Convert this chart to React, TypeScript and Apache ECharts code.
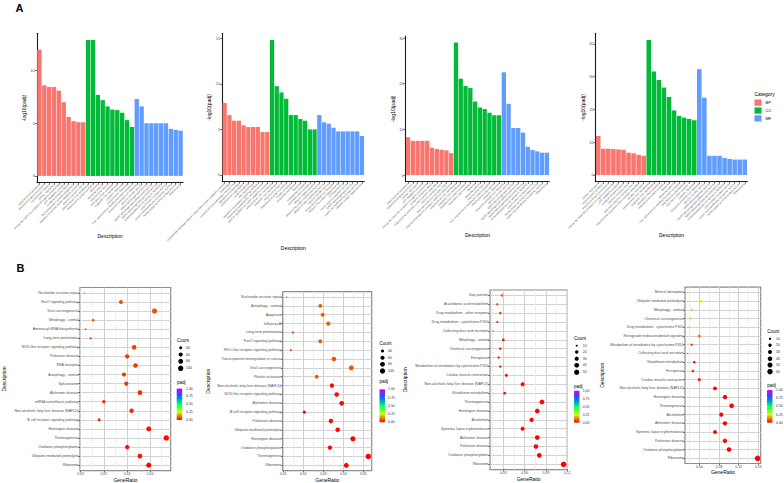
import React, { useEffect, useRef } from 'react';
import * as echarts from 'echarts';

const FONT = '"Liberation Sans", Arial, Helvetica, sans-serif';
const CAT_NAMES = ['BP', 'CC', 'MF'];
const CAT_COLORS = ['#F8766D', '#00BA38', '#619CFF'];
const RAINBOW = ['#FF0000', '#CCFF00', '#00FF66', '#0066FF', '#CC00FF'];

// ---------------- Panel A (GO bar charts) ----------------
const a1BP = [12.0, 8.6, 8.45, 8.45, 8.1, 7.0, 5.6, 5.2, 5.1, 5.1];
const a1CC = [12.9, 12.9, 7.7, 7.2, 6.6, 6.3, 6.25, 6.0, 5.3, 4.65];
const a1MF = [7.3, 6.6, 5.0, 5.0, 5.0, 5.0, 5.0, 4.47, 4.37, 4.3];
const a1Labels = [
  'mitochondrial translation', 'mitochondrial gene expression', 'translational initiation', 'cellular respiration',
  'energy derivation by oxidation of organic compounds', 'ATP metabolic process', 'oxidative phosphorylation',
  'ribonucleoprotein complex biogenesis', 'regulation of cellular amide metabolic process', 'electron transport chain',
  'mitochondrial inner membrane', 'mitochondrial protein complex', 'ribosome', 'ribosomal subunit', 'mitochondrial matrix',
  'respiratory chain complex', 'organelle inner membrane', 'cytosolic ribosome', 'mitochondrial ribosome',
  'inner mitochondrial membrane protein complex',
  'structural constituent of ribosome', 'electron transfer activity', 'NADH dehydrogenase activity',
  'NADH dehydrogenase (ubiquinone) activity', 'NADH dehydrogenase (quinone) activity',
  'oxidoreductase activity, acting on NAD(P)H', 'cytochrome-c oxidase activity',
  'proton transmembrane transporter activity', 'heme-copper terminal oxidase activity', 'rRNA binding',
];
const a1Ticks = [0, 5, 10];

const a2BP = [7.9, 6.57, 5.95, 5.95, 5.44, 5.26, 5.26, 5.26, 4.7, 4.7];
const a2CC = [14.8, 9.74, 9.05, 8.36, 6.57, 6.57, 6.13, 5.95, 5.0, 5.0];
const a2MF = [6.57, 5.77, 5.62, 5.18, 4.78, 4.78, 4.78, 4.78, 4.78, 4.27];
const a2Labels = [
  'proteasome-mediated ubiquitin-dependent protein catabolic process', 'autophagy', 'process utilizing autophagic mechanism',
  'regulation of autophagy', 'mitochondrion organization', 'protein targeting', 'macroautophagy',
  'regulation of apoptotic signaling pathway', 'response to endoplasmic reticulum stress',
  'positive regulation of protein catabolic process',
  'mitochondrial inner membrane', 'organelle inner membrane', 'mitochondrial matrix', 'mitochondrial protein complex',
  'nuclear envelope', 'endosome membrane', 'ribosome', 'proteasome complex', 'respiratory chain complex',
  'ubiquitin ligase complex',
  'ubiquitin-like protein transferase activity', 'ubiquitin-protein transferase activity', 'electron transfer activity',
  'structural constituent of ribosome', 'ubiquitin-like protein ligase binding', 'GTPase binding',
  'transcription coregulator activity', 'NADH dehydrogenase activity', 'protein serine/threonine kinase activity',
  'ubiquitin protein ligase activity',
];
const a2Ticks = [0, 5, 10, 15];

const a3BP = [8.3, 7.5, 7.5, 7.5, 7.5, 6.0, 5.7, 5.55, 5.4, 4.8];
const a3CC = [29.0, 21.1, 19.5, 19.05, 16.1, 14.8, 14.45, 13.65, 13.1, 13.1];
const a3MF = [22.5, 15.6, 10.3, 10.3, 9.3, 6.2, 5.5, 5.2, 4.9, 4.9];
const a3Labels = [
  'mitochondrial translation', 'mitochondrial gene expression', 'cellular respiration', 'ATP metabolic process',
  'energy derivation by oxidation of organic compounds', 'oxidative phosphorylation',
  'mitochondrial respiratory chain complex assembly', 'electron transport chain', 'respiratory electron transport chain',
  'mitochondrial electron transport, NADH to ubiquinone',
  'mitochondrial inner membrane', 'organelle inner membrane', 'mitochondrial protein complex', 'respiratory chain complex',
  'ribosome', 'ribosomal subunit', 'mitochondrial matrix', 'inner mitochondrial membrane protein complex',
  'mitochondrial respirasome', 'cytosolic ribosome',
  'structural constituent of ribosome', 'electron transfer activity', 'NADH dehydrogenase activity',
  'NADH dehydrogenase (ubiquinone) activity', 'NADH dehydrogenase (quinone) activity',
  'oxidoreductase activity, acting on NAD(P)H', 'cytochrome-c oxidase activity',
  'heme-copper terminal oxidase activity', 'proton transmembrane transporter activity', 'rRNA binding',
];
const a3Ticks = [0, 10, 20, 30];

const a4BP = [11.9, 8.0, 8.0, 7.9, 7.8, 7.7, 6.8, 6.6, 6.15, 5.85];
const a4CC = [41.2, 31.6, 29.0, 26.7, 23.8, 19.7, 18.05, 17.5, 17.1, 16.7];
const a4MF = [32.3, 23.6, 5.85, 5.85, 5.85, 5.2, 4.9, 4.7, 4.7, 4.7];
const a4Labels = [
  'cellular respiration', 'mitochondrial translation', 'mitochondrial gene expression',
  'energy derivation by oxidation of organic compounds', 'ATP metabolic process', 'oxidative phosphorylation',
  'electron transport chain', 'respiratory electron transport chain', 'mitochondrial respiratory chain complex assembly',
  'aerobic respiration',
  'mitochondrial inner membrane', 'organelle inner membrane', 'respiratory chain complex', 'mitochondrial protein complex',
  'ribosome', 'ribosomal subunit', 'inner mitochondrial membrane protein complex', 'mitochondrial respirasome',
  'respiratory chain complex I', 'cytosolic ribosome',
  'structural constituent of ribosome', 'electron transfer activity', 'NADH dehydrogenase activity',
  'NADH dehydrogenase (ubiquinone) activity', 'NADH dehydrogenase (quinone) activity',
  'oxidoreductase activity, acting on NAD(P)H', 'cytochrome-c oxidase activity',
  'proton transmembrane transporter activity', 'heme-copper terminal oxidase activity', 'rRNA binding',
];
const a4Ticks = [0, 10, 20, 30, 40];

// ---------------- Panel B (KEGG dot plots) ----------------
const b1Names = [
  'Nucleotide excision repair', 'FoxO signaling pathway', 'Viral carcinogenesis', 'Mitophagy - animal',
  'Aminoacyl-tRNA biosynthesis', 'Long-term potentiation', 'NOD-like receptor signaling pathway', 'Parkinson disease',
  'RNA transport', 'Autophagy - animal', 'Spliceosome', 'Alzheimer disease', 'mRNA surveillance pathway',
  'Non-alcoholic fatty liver disease (NAFLD)', 'B cell receptor signaling pathway', 'Huntington disease',
  'Thermogenesis', 'Oxidative phosphorylation', 'Ubiquitin mediated proteolysis', 'Ribosome',
];
const b1Ratio = [0.0116, 0.0274, 0.0419, 0.0154, 0.0121, 0.0143, 0.0331, 0.0301, 0.0337, 0.0287, 0.0297, 0.0356, 0.0200, 0.0320, 0.0180, 0.0394, 0.0470, 0.0301, 0.0356, 0.0394];
const b1Count = [26, 60, 92, 34, 27, 31, 73, 66, 74, 63, 65, 78, 44, 70, 40, 87, 103, 66, 78, 87];
const b1Padj = [0.09, 0.085, 0.08, 0.08, 0.085, 0.08, 0.06, 0.055, 0.055, 0.05, 0.05, 0.045, 0.04, 0.04, 0.035, 0.02, 0.015, 0.01, 0.01, 0.005];
const b1Majors = [0.01, 0.02, 0.03, 0.04];
const b1Minors = [0.015, 0.025, 0.035, 0.045];
const b1CountBreaks = [40, 60, 80, 100];

const b2Names = [
  'Nucleotide excision repair', 'Autophagy - animal', 'Apoptosis', 'Influenza A', 'Long-term potentiation',
  'FoxO signaling pathway', 'RIG-I-like receptor signaling pathway', 'Transcriptional misregulation in cancer',
  'Viral carcinogenesis', 'Platelet activation', 'Non-alcoholic fatty liver disease (NAFLD)',
  'NOD-like receptor signaling pathway', 'Alzheimer disease', 'B cell receptor signaling pathway', 'Parkinson disease',
  'Ubiquitin mediated proteolysis', 'Huntington disease', 'Oxidative phosphorylation', 'Thermogenesis', 'Ribosome',
];
const b2Ratio = [0.0117, 0.0285, 0.0297, 0.0325, 0.0148, 0.0285, 0.0138, 0.0353, 0.0440, 0.0267, 0.0343, 0.0367, 0.0392, 0.0205, 0.0338, 0.0372, 0.0448, 0.0333, 0.0525, 0.0415];
const b2Count = [23, 57, 59, 65, 30, 57, 28, 71, 88, 53, 69, 73, 78, 41, 68, 74, 90, 67, 105, 83];
const b2Padj = [0.095, 0.09, 0.09, 0.09, 0.09, 0.09, 0.09, 0.085, 0.085, 0.085, 0.01, 0.01, 0.008, 0.01, 0.006, 0.006, 0.004, 0.004, 0.002, 0.002];
const b2Majors = [0.01, 0.02, 0.03, 0.04, 0.05];
const b2Minors = [0.015, 0.025, 0.035, 0.045];
const b2CountBreaks = [40, 60, 80, 100];

const b3Names = [
  'Gap junction', 'Arachidonic acid metabolism', 'Drug metabolism - other enzymes', 'Drug metabolism - cytochrome P450',
  'Collecting duct acid secretion', 'Mitophagy - animal', 'Chemical carcinogenesis', 'Ferroptosis',
  'Metabolism of xenobiotics by cytochrome P450', 'Cardiac muscle contraction',
  'Non-alcoholic fatty liver disease (NAFLD)', 'Glutathione metabolism', 'Thermogenesis', 'Huntington disease',
  'Alcoholism', 'Systemic lupus erythematosus', 'Alzheimer disease', 'Parkinson disease', 'Oxidative phosphorylation',
  'Ribosome',
];
const b3Ratio = [0.0281, 0.0216, 0.0258, 0.0216, 0.0155, 0.0300, 0.0258, 0.0234, 0.0258, 0.0342, 0.0572, 0.0319, 0.0844, 0.0778, 0.0698, 0.0572, 0.0778, 0.0759, 0.0806, 0.1148];
const b3Count = [14, 10, 12, 10, 8, 14, 12, 11, 12, 16, 27, 15, 40, 37, 33, 27, 37, 36, 38, 54];
const b3Padj = [0.1, 0.04, 0.035, 0.04, 0.04, 0.02, 0.02, 0.03, 0.02, 0.01, 0.005, 0.01, 0.001, 0.001, 0.002, 0.002, 0.001, 0.001, 0.001, 0.0001];
const b3Majors = [0.03, 0.06, 0.09, 0.12];
const b3Minors = [0.015, 0.045, 0.075, 0.105];
const b3CountBreaks = [10, 20, 30, 40, 50];

const b4Names = [
  'Mineral absorption', 'Ubiquitin mediated proteolysis', 'Mitophagy - animal', 'Chemical carcinogenesis',
  'Drug metabolism - cytochrome P450', 'Retrograde endocannabinoid signaling',
  'Metabolism of xenobiotics by cytochrome P450', 'Collecting duct acid secretion', 'Glutathione metabolism',
  'Ferroptosis', 'Cardiac muscle contraction', 'Non-alcoholic fatty liver disease (NAFLD)', 'Huntington disease',
  'Thermogenesis', 'Alcoholism', 'Alzheimer disease', 'Systemic lupus erythematosus', 'Parkinson disease',
  'Oxidative phosphorylation', 'Ribosome',
];
const b4Ratio = [0.0156, 0.0427, 0.0244, 0.0217, 0.0190, 0.0400, 0.0244, 0.0163, 0.0298, 0.0271, 0.0400, 0.0719, 0.0922, 0.1058, 0.0847, 0.0922, 0.0719, 0.0922, 0.1003, 0.1586];
const b4Count = [6, 17, 10, 8, 7, 16, 10, 6, 12, 11, 16, 28, 36, 41, 33, 36, 28, 36, 39, 62];
const b4Padj = [0.22, 0.25, 0.22, 0.22, 0.22, 0.12, 0.05, 0.05, 0.02, 0.03, 0.02, 0.002, 0.001, 0.001, 0.001, 0.001, 0.002, 0.001, 0.001, 0.0001];
const b4Majors = [0.04, 0.08, 0.12, 0.16];
const b4Minors = [0.02, 0.06, 0.10, 0.14];
const b4CountBreaks = [10, 20, 30, 40, 50, 60];

const padjBreaks = [1, 0.75, 0.5, 0.25, 0];

// ---------------- Layout ----------------
const BAR_LAYOUT = [
  { left: 37, top: 33.3, width: 146, height: 149.4 },
  { left: 222.3, top: 33.3, width: 142, height: 148.4 },
  { left: 405.7, top: 36, width: 143.6, height: 145.7 },
  { left: 595.7, top: 33.3, width: 151.6, height: 148.4 },
];
const DOT_LAYOUT = [
  { left: 79.3, top: 287.5, width: 91.4, height: 184, xmin: 0.0097, xmax: 0.0489, nameGap: 74,
    leg: { x: 177, ty: 340, dx: 180.7, ys: [347.7, 354.5, 361.3, 368.3], lx: 186, py: 382, bx: 176.7, by: 388.5, bh: 31.5 } },
  { left: 282.7, top: 291.7, width: 89, height: 180, xmin: 0.0097, xmax: 0.0542, nameGap: 72,
    leg: { x: 379.5, ty: 343, dx: 382.5, ys: [351, 357.7, 364.3, 371], lx: 388, py: 381, bx: 379.5, by: 389.3, bh: 33 } },
  { left: 490, top: 290, width: 77.3, height: 179.6, xmin: 0.0113, xmax: 0.12, nameGap: 83,
    leg: { x: 574, ty: 338.3, dx: 576.7, ys: [345.7, 352, 358.7, 365.3, 372.3], lx: 582.7, py: 386, bx: 574, by: 390.7, bh: 32 } },
  { left: 685, top: 287.1, width: 75.7, height: 176.4, xmin: 0.0109, xmax: 0.1649, nameGap: 81,
    leg: { x: 767.3, ty: 331.7, dx: 770, ys: [338.7, 345.3, 352, 358.7, 365, 371.7], lx: 776, py: 385.7, bx: 767, by: 390, bh: 32.7 } },
];

function sizeScale(counts: number[]) {
  const lo = Math.min(...counts);
  const hi = Math.max(...counts);
  return (c: number) => 1.2 + 4.3 * Math.sqrt(Math.max(0, (c - lo) / (hi - lo)));
}

function buildOption() {
  const grids: any[] = [];
  const xAxes: any[] = [];
  const yAxes: any[] = [];
  const series: any[] = [];
  const visualMaps: any[] = [];
  const graphics: any[] = [];

  const barPanels = [
    { vals: [a1BP, a1CC, a1MF], labels: a1Labels, ticks: a1Ticks },
    { vals: [a2BP, a2CC, a2MF], labels: a2Labels, ticks: a2Ticks },
    { vals: [a3BP, a3CC, a3MF], labels: a3Labels, ticks: a3Ticks },
    { vals: [a4BP, a4CC, a4MF], labels: a4Labels, ticks: a4Ticks },
  ];

  barPanels.forEach((p, i) => {
    const L = BAR_LAYOUT[i];
    grids.push({ left: L.left, top: L.top, width: L.width, height: L.height });
    const mx = Math.max(...p.vals[0], ...p.vals[1], ...p.vals[2]);
    const xi = xAxes.length;
    xAxes.push({
      type: 'category', gridIndex: grids.length - 1, data: p.labels, boundaryGap: true,
      axisLine: { show: true, onZero: false, lineStyle: { color: '#1a1a1a', width: 1.1 } },
      axisTick: { show: true, alignWithLabel: true, interval: 0, length: 2, lineStyle: { color: '#333', width: 0.7 } },
      axisLabel: { interval: 0, rotate: 45, fontSize: 2.7, color: '#4d4d4d', margin: 2, fontFamily: FONT },
      name: 'Description', nameLocation: 'middle', nameGap: 49,
      nameTextStyle: { fontSize: 5, color: '#000', fontFamily: FONT },
    });
    const yi = yAxes.length;
    yAxes.push({
      type: 'value', gridIndex: grids.length - 1, min: -0.05 * mx, max: 1.05 * mx,
      axisLine: { show: true, onZero: false, lineStyle: { color: '#1a1a1a', width: 1.1 } },
      axisTick: { show: true, length: 2, customValues: p.ticks, lineStyle: { color: '#333', width: 0.7 } },
      axisLabel: { customValues: p.ticks, fontSize: 4, color: '#4d4d4d', margin: 2, fontFamily: FONT },
      splitLine: { show: false },
      name: '-log10(padj)', nameLocation: 'middle', nameGap: 9, nameRotate: 90,
      nameTextStyle: { fontSize: 5, color: '#000', fontFamily: FONT },
    });
    let offset = 0;
    const total = p.labels.length;
    p.vals.forEach((arr, c) => {
      const data: any[] = [];
      for (let k = 0; k < total; k++) {
        const j = k - offset;
        data.push(j >= 0 && j < arr.length ? arr[j] : '-');
      }
      offset += arr.length;
      series.push({
        type: 'bar', name: CAT_NAMES[c], xAxisIndex: xi, yAxisIndex: yi, stack: 'bars' + i,
        barCategoryGap: '10%', data, itemStyle: { color: CAT_COLORS[c] }, silent: true,
      });
    });
  });

  const dotPanels = [
    { names: b1Names, ratio: b1Ratio, count: b1Count, padj: b1Padj, majors: b1Majors, minors: b1Minors, breaks: b1CountBreaks },
    { names: b2Names, ratio: b2Ratio, count: b2Count, padj: b2Padj, majors: b2Majors, minors: b2Minors, breaks: b2CountBreaks },
    { names: b3Names, ratio: b3Ratio, count: b3Count, padj: b3Padj, majors: b3Majors, minors: b3Minors, breaks: b3CountBreaks },
    { names: b4Names, ratio: b4Ratio, count: b4Count, padj: b4Padj, majors: b4Majors, minors: b4Minors, breaks: b4CountBreaks },
  ];

  const rowIdx = (n: number) => Array.from({ length: n }, (_, k) => k);

  dotPanels.forEach((p, k) => {
    const L = DOT_LAYOUT[k];
    grids.push({
      left: L.left, top: L.top, width: L.width, height: L.height,
      show: true, borderColor: '#8c8c8c', borderWidth: 1.2, backgroundColor: '#fff',
    });
    const gi = grids.length - 1;
    const xi = xAxes.length;
    xAxes.push({
      type: 'value', gridIndex: gi, min: L.xmin, max: L.xmax, position: 'bottom',
      axisLine: { show: false, onZero: false },
      axisTick: { show: true, length: 1.8, customValues: p.majors, lineStyle: { color: '#333', width: 0.7 } },
      axisLabel: { customValues: p.majors, formatter: (v: number) => v.toFixed(2), fontSize: 3.5, color: '#4d4d4d', margin: 1.5, fontFamily: FONT },
      splitLine: { show: true, lineStyle: { color: '#d2d2d2', width: 1 } },
      name: 'GeneRatio', nameLocation: 'middle', nameGap: 6,
      nameTextStyle: { fontSize: 5, color: '#000', fontFamily: FONT },
    });
    xAxes.push({
      type: 'value', gridIndex: gi, min: L.xmin, max: L.xmax, position: 'bottom',
      axisLine: { show: false, onZero: false }, axisTick: { show: false, customValues: p.minors },
      axisLabel: { show: false, customValues: p.minors },
      splitLine: { show: true, lineStyle: { color: '#e8e8e8', width: 0.7 } },
    });
    const yi = yAxes.length;
    const rows = rowIdx(p.names.length);
    yAxes.push({
      type: 'value', gridIndex: gi, inverse: true, min: -0.6, max: p.names.length - 0.4,
      axisLine: { show: false, onZero: false },
      axisTick: { show: true, length: 1.8, customValues: rows, lineStyle: { color: '#333', width: 0.7 } },
      axisLabel: {
        customValues: rows, formatter: (v: number) => p.names[Math.round(v)] ?? '',
        fontSize: 3.5, color: '#4d4d4d', margin: 1.5, fontFamily: FONT,
      },
      splitLine: { show: true, lineStyle: { color: '#d2d2d2', width: 1 } },
      name: 'Description', nameLocation: 'middle', nameGap: L.nameGap, nameRotate: 90,
      nameTextStyle: { fontSize: 5, color: '#000', fontFamily: FONT },
    });
    const sz = sizeScale(p.count);
    const sIdx = series.length;
    series.push({
      type: 'scatter', xAxisIndex: xi, yAxisIndex: yi, silent: true,
      data: p.ratio.map((x, j) => [x, j, p.count[j], p.padj[j]]),
      symbolSize: (v: number[]) => sz(v[2]),
      itemStyle: { opacity: 1 },
    });
    visualMaps.push({
      type: 'continuous', show: false, seriesIndex: sIdx, dimension: 3, min: 0, max: 1,
      inRange: { color: RAINBOW },
    });

    const g = L.leg;
    graphics.push({ type: 'text', x: g.x, y: g.ty, style: { text: 'Count', fontSize: 4.5, fontFamily: FONT, fill: '#000', textVerticalAlign: 'middle' } });
    p.breaks.forEach((b, j) => {
      graphics.push({ type: 'circle', shape: { cx: g.dx, cy: g.ys[j], r: sz(b) / 2 }, style: { fill: '#000' } });
      graphics.push({ type: 'text', x: g.lx, y: g.ys[j], style: { text: String(b), fontSize: 3.5, fontFamily: FONT, fill: '#333', textVerticalAlign: 'middle' } });
    });
    graphics.push({ type: 'text', x: g.x, y: g.py, style: { text: 'padj', fontSize: 4.5, fontFamily: FONT, fill: '#000', textVerticalAlign: 'middle' } });
    graphics.push({
      type: 'rect', shape: { x: g.bx, y: g.by, width: 5.5, height: g.bh },
      style: {
        fill: new echarts.graphic.LinearGradient(0, 1, 0, 0, RAINBOW.map((c, j) => ({ offset: j / (RAINBOW.length - 1), color: c }))),
      },
    });
    padjBreaks.forEach((v) => {
      const yy = g.by + g.bh * (1 - v);
      graphics.push({ type: 'line', shape: { x1: g.bx, y1: yy, x2: g.bx + 1.1, y2: yy }, style: { stroke: '#fff', lineWidth: 0.4 } });
      graphics.push({ type: 'line', shape: { x1: g.bx + 4.4, y1: yy, x2: g.bx + 5.5, y2: yy }, style: { stroke: '#fff', lineWidth: 0.4 } });
      graphics.push({ type: 'text', x: g.lx, y: yy, style: { text: v.toFixed(2), fontSize: 3.5, fontFamily: FONT, fill: '#333', textVerticalAlign: 'middle' } });
    });
  });

  graphics.push({ type: 'text', x: 15.5, y: 2.5, style: { text: 'A', fontSize: 11, fontWeight: 'bold', fontFamily: FONT, fill: '#000' } });
  graphics.push({ type: 'text', x: 16.5, y: 262.5, style: { text: 'B', fontSize: 11, fontWeight: 'bold', fontFamily: FONT, fill: '#000' } });
  graphics.push({ type: 'text', x: 754.5, y: 94.3, style: { text: 'Category', fontSize: 5, fontFamily: FONT, fill: '#000', textVerticalAlign: 'middle' } });

  return {
    animation: false,
    backgroundColor: '#fff',
    textStyle: { fontFamily: FONT },
    grid: grids,
    xAxis: xAxes,
    yAxis: yAxes,
    series,
    visualMap: visualMaps,
    legend: {
      data: CAT_NAMES, orient: 'vertical', left: 754.5, top: 99.5, padding: 0,
      itemWidth: 7, itemHeight: 6.3, itemGap: 1.6, icon: 'rect', selectedMode: false,
      textStyle: { fontSize: 4, color: '#000', fontFamily: FONT, padding: [0, 0, 0, -1] },
    },
    graphic: { elements: graphics },
  };
}

export default function App() {
  const ref = useRef<HTMLDivElement>(null);
  useEffect(() => {
    if (!ref.current) return;
    const chart = echarts.init(ref.current, undefined, { renderer: 'svg' });
    chart.setOption(buildOption() as any);
    return () => chart.dispose();
  }, []);
  return (
    <div
      ref={ref}
      style={{ position: 'absolute', left: 0, top: 0, width: 784, height: 483, background: '#fff' }}
    />
  );
}
